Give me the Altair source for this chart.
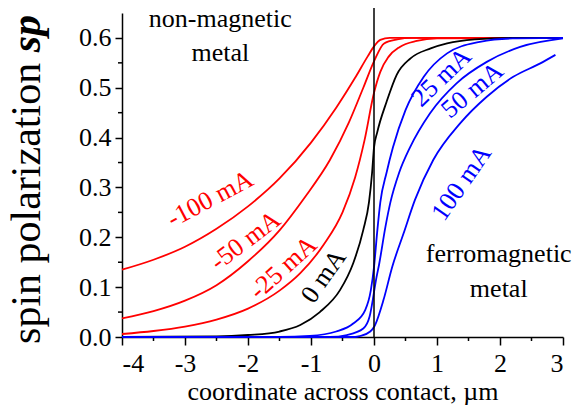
import altair as alt
import pandas as pd

# ---------------- data ----------------
# red curves (negative currents)
x_m100 = [-4, -3.5, -3, -2.5, -2, -1.5, -1, -0.6, -0.3, -0.1, 0, 0.1, 0.25, 3]
sp_m100 = [0.135, 0.155, 0.181, 0.217, 0.262, 0.318, 0.39, 0.46, 0.52, 0.563, 0.583, 0.596, 0.6, 0.6]

x_m50 = [-4, -3.5, -3, -2.5, -2, -1.5, -1.1, -0.7, -0.4, -0.17, 0, 0.16, 0.37, 0.6, 3]
sp_m50 = [0.0375, 0.052, 0.073, 0.104, 0.152, 0.214, 0.28, 0.355, 0.43, 0.5, 0.553, 0.589, 0.597, 0.6, 0.6]

x_m25 = [-4, -3.5, -3, -2.5, -2, -1.5, -1.17, -0.8, -0.5, -0.3, -0.15, 0, 0.1, 0.23, 0.41, 0.68, 1.0, 3]
sp_m25 = [0.006, 0.012, 0.021, 0.035, 0.057, 0.093, 0.128, 0.185, 0.25, 0.32, 0.395, 0.49, 0.532, 0.562, 0.582, 0.594, 0.599, 0.6]

# black curve (0 mA)
x_0 = [-4, -2.5, -2, -1.5, -1.17, -0.86, -0.54, -0.33, -0.17, -0.08, -0.03, 0, 0.05, 0.2, 0.36, 0.58, 0.9, 1.16, 1.6, 2.2, 3]
sp_0 = [0, 0.001, 0.004, 0.011, 0.024, 0.05, 0.094, 0.148, 0.215, 0.27, 0.33, 0.38, 0.41, 0.472, 0.526, 0.559, 0.579, 0.589, 0.597, 0.6, 0.6]

# blue curves (positive currents)
x_p25 = [-4, -1.5, -1.02, -0.6, -0.33, -0.14, -0.05, 0, 0.05, 0.1, 0.2, 0.3, 0.5, 0.79, 1.16, 1.68, 2.2, 3]
sp_p25 = [0, 0, 0.002, 0.011, 0.027, 0.054, 0.094, 0.14, 0.21, 0.27, 0.33, 0.38, 0.455, 0.522, 0.569, 0.592, 0.599, 0.6]

x_p50 = [-4, -0.7, -0.43, -0.17, -0.07, -0.02, 0, 0.04, 0.08, 0.18, 0.26, 0.4, 0.57, 0.89, 1.31, 1.79, 2.32, 3]
sp_p50 = [0, 0, 0.004, 0.017, 0.041, 0.074, 0.09, 0.12, 0.145, 0.22, 0.27, 0.33, 0.38, 0.449, 0.509, 0.552, 0.582, 0.599]

x_p100 = [-4, -0.3, -0.22, -0.06, 0, 0.02, 0.15, 0.29, 0.47, 0.65, 0.94, 1.37, 1.79, 2.21, 2.64, 2.88]
sp_p100 = [0, 0, 0.002, 0.011, 0.02, 0.025, 0.074, 0.141, 0.208, 0.275, 0.355, 0.429, 0.482, 0.522, 0.549, 0.566]

# curve labels
lab_text = ["-100 mA", "-50 mA", "-25 mA", "0 mA", "25 mA", "50 mA", "100 mA"]
lab_x = [-2.6, -2.04, -1.44, -0.8, 1.07, 1.56, 1.39]
lab_y = [0.277, 0.193, 0.139, 0.122, 0.521, 0.495, 0.309]
lab_angle = [332, 323, 318, 305, 316, 320, 305]
lab_color = ["red", "red", "red", "black", "blue", "blue", "blue"]

# region annotations
ann_text = ["non-magnetic", "metal", "ferromagnetic", "metal"]
ann_x = [-2.44, -2.44, 1.98, 1.98]
ann_y = [0.622, 0.554, 0.151, 0.081]

x_major = [-4, -3, -2, -1, 0, 1, 2, 3]
x_minor = [-3.5, -2.5, -1.5, -0.5, 0.5, 1.5, 2.5]
y_major = [0, 0.1, 0.2, 0.3, 0.4, 0.5, 0.6]
y_minor = [0.05, 0.15, 0.25, 0.35, 0.45, 0.55]

# ---------------- chart ----------------
FONT = "Liberation Serif"
W, H = 441, 324
FS = 26
YT_FS = 42
YT_X = -82

xs = alt.Scale(domain=[-4, 3], nice=False, zero=False)
ys = alt.Scale(domain=[0, 0.65], nice=False, zero=False)

x_axis = alt.Axis(values=x_major, labelExpr="'' + datum.value", title="coordinate across contact, \u00b5m",
                  tickSize=8, labelPadding=5, titlePadding=2)
y_axis = alt.Axis(values=y_major, format=".1f", title=None, tickSize=7, labelPadding=4)


def X(field="x"):
    return alt.X(f"{field}:Q", scale=xs, axis=x_axis)


def Y(field="sp"):
    return alt.Y(f"{field}:Q", scale=ys, axis=y_axis)


def frame(xv, yv, name):
    return pd.DataFrame({"x": xv, "sp": yv, "curve": name})


red_df = pd.concat([frame(x_m100, sp_m100, "-100"), frame(x_m50, sp_m50, "-50"), frame(x_m25, sp_m25, "-25")])
black_df = frame(x_0, sp_0, "0")
blue_df = pd.concat([frame(x_p25, sp_p25, "25"), frame(x_p50, sp_p50, "50"), frame(x_p100, sp_p100, "100")])


def lines(df, color):
    return alt.Chart(df).mark_line(color=color, strokeWidth=1.8, interpolate="monotone").encode(
        x=X(), y=Y(), detail="curve:N")


xminor = alt.Chart(pd.DataFrame({"x": x_minor})).mark_rule(color="black", strokeWidth=1.5).encode(
    x=X(), y=alt.value(H), y2=alt.value(H + 4))
yminor = alt.Chart(pd.DataFrame({"sp": y_minor})).mark_rule(color="black", strokeWidth=1.5).encode(
    y=Y(), x=alt.value(0), x2=alt.value(-4))

vline = alt.Chart(pd.DataFrame({"x": [0], "sp": [0], "sp2": [0.66]})).mark_rule(
    color="black", strokeWidth=1.5).encode(x=X(), y=Y(), y2="sp2:Q")

lab_df = pd.DataFrame({"t": lab_text, "x": lab_x, "sp": lab_y, "a": lab_angle, "c": lab_color})
labels = alt.Chart(lab_df).mark_text(font=FONT, fontSize=FS, align="center", baseline="middle").encode(
    x=X(), y=Y(), text="t:N", angle=alt.Angle("a:Q", scale=None), color=alt.Color("c:N", scale=None))

ann_df = pd.DataFrame({"t": ann_text, "x": ann_x, "sp": ann_y})
anns = alt.Chart(ann_df).mark_text(font=FONT, fontSize=FS, align="center", baseline="alphabetic",
                                   color="black").encode(x=X(), y=Y(), text="t:N")

# y-axis title: regular part + bold italic "sp"
ytitle1 = alt.Chart(pd.DataFrame({"t": ["spin polarization"]})).mark_text(
    font=FONT, fontSize=YT_FS, angle=270, align="right", baseline="alphabetic", color="black").encode(
    text="t:N", x=alt.value(YT_X), y=alt.value((0.889 + 0.25) * YT_FS + 2))
ytitle2 = alt.Chart(pd.DataFrame({"t": ["sp"]})).mark_text(
    font=FONT, fontSize=YT_FS, fontStyle="italic", fontWeight="bold", angle=270, align="right",
    baseline="alphabetic", color="black").encode(text="t:N", x=alt.value(YT_X), y=alt.value(2))

chart = alt.layer(
    xminor, yminor,
    lines(red_df, "#ff0000"), lines(black_df, "#000000"), lines(blue_df, "#0000ff"),
    vline, labels, anns, ytitle1, ytitle2,
).properties(
    width=W, height=H,
    padding={"left": 122, "top": 13, "right": 18, "bottom": 72},
    autosize=alt.AutoSizeParams(type="none"),
    background="white",
).configure_view(stroke=None).configure_axis(
    labelFont=FONT, titleFont=FONT, labelFontSize=FS, titleFontSize=FS, labelColor="black", titleColor="black",
    domainColor="black", tickColor="black", domainWidth=1.5, tickWidth=1.5, grid=False, titleFontWeight="normal",
)

chart.save("out.html", embed_options={"renderer": "svg", "actions": False})
